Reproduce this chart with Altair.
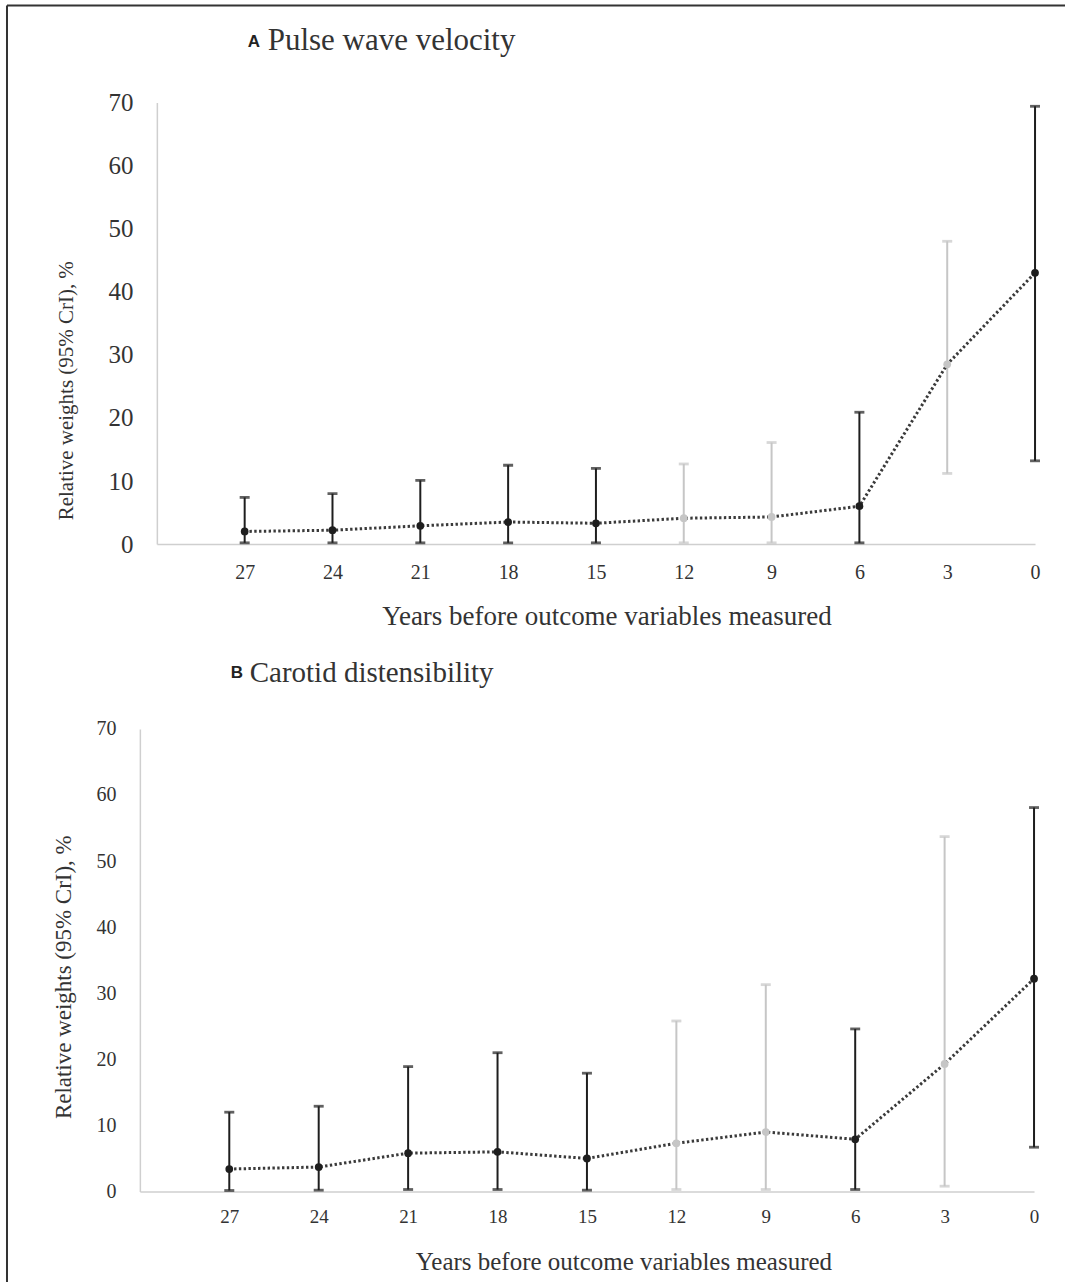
import altair as alt
import pandas as pd

# Years before the outcome variables were measured
years = [27, 24, 21, 18, 15, 12, 9, 6, 3, 0]

# Panel A: pulse wave velocity, relative weights (%) with 95% CrI
pwv_weight = [2.0, 2.2, 2.9, 3.5, 3.3, 4.1, 4.3, 6.0, 28.5, 43.0]
pwv_lower = [0.2, 0.2, 0.2, 0.2, 0.2, 0.2, 0.2, 0.2, 11.2, 13.2]
pwv_upper = [7.4, 8.0, 10.1, 12.5, 12.0, 12.7, 16.1, 20.9, 48.0, 69.4]
pwv_tone = ["dark", "dark", "dark", "dark", "dark", "light", "light", "dark", "light", "dark"]

# Panel B: carotid distensibility, relative weights (%) with 95% CrI
cd_weight = [3.4, 3.7, 5.8, 6.0, 5.0, 7.3, 9.0, 7.9, 19.3, 32.2]
cd_lower = [0.15, 0.2, 0.3, 0.3, 0.2, 0.3, 0.3, 0.3, 0.8, 6.7]
cd_upper = [12.0, 12.9, 18.9, 21.0, 17.9, 25.8, 31.3, 24.6, 53.7, 58.1]
cd_tone = ["dark", "dark", "dark", "dark", "dark", "light", "light", "dark", "light", "dark"]

y_ticks = [0, 10, 20, 30, 40, 50, 60, 70]

x_title = "Years before outcome variables measured"
y_title = "Relative weights (95% CrI), %"

W, H = 1066, 1276
SERIF = "Liberation Serif"
SANS = "Liberation Sans"
TEXT = "#333333"

tone_color = alt.Color(
    "tone:N",
    scale=alt.Scale(domain=["dark", "light"], range=["#1e1e1e", "#c6c6c6"]),
    legend=None,
)


def panel(df, x_range, y_range, x_off, y_off, lab_y, lab_x, lab_pad_x, t_x, t_y,
          xt_x, xt_y, yt_x, yt_y):
    xs = alt.Scale(domain=[30, 0], range=x_range)
    ys = alt.Scale(domain=[0, 70], range=y_range)
    x_axis = alt.Axis(
        orient="bottom", offset=x_off, values=years, format="d", ticks=False,
        grid=False, domainColor="#cfcfcf", domainWidth=1.5,
        labelFont=SERIF, labelFontSize=lab_x, labelColor=TEXT,
        labelPadding=lab_pad_x, labelFlush=False, labelOverlap=False,
        title=x_title, titleFont=SERIF, titleFontSize=t_x, titleFontWeight="normal",
        titleColor=TEXT, titleX=xt_x, titleY=xt_y, titleBaseline="middle",
        titleAnchor="middle",
    )
    y_axis = alt.Axis(
        orient="left", offset=y_off, values=y_ticks, ticks=False, grid=False,
        domainColor="#cfcfcf", domainWidth=1.5,
        labelFont=SERIF, labelFontSize=lab_y, labelColor=TEXT,
        labelPadding=24, labelFlush=False, labelOverlap=False,
        title=y_title, titleFont=SERIF, titleFontSize=t_y, titleFontWeight="normal",
        titleColor=TEXT, titleX=yt_x, titleY=yt_y, titleBaseline="middle",
        titleAngle=270,
    )

    def X():
        return alt.X("year:Q", scale=xs, axis=x_axis)

    def Y(field):
        return alt.Y(f"{field}:Q", scale=ys, axis=y_axis)

    base = alt.Chart(df)
    whiskers = base.mark_rule(strokeWidth=2).encode(
        x=X(), y=Y("lower"), y2="upper:Q", color=tone_color
    )
    cap_lo = base.mark_tick(orient="horizontal", size=10, thickness=2.8).encode(
        x=X(), y=Y("lower"), color=tone_color
    )
    cap_hi = base.mark_tick(orient="horizontal", size=10, thickness=2.8).encode(
        x=X(), y=Y("upper"), color=tone_color
    )
    trend = base.mark_line(
        color="#3a3a3a", strokeWidth=3, strokeDash=[2.4, 2.4], strokeCap="butt"
    ).encode(x=X(), y=Y("weight"))
    dots = base.mark_circle(size=60, opacity=1).encode(
        x=X(), y=Y("weight"), color=tone_color
    )
    return alt.layer(whiskers, cap_lo, cap_hi, trend, dots)


df_a = pd.DataFrame({"year": years, "weight": pwv_weight, "lower": pwv_lower,
                     "upper": pwv_upper, "tone": pwv_tone})
df_b = pd.DataFrame({"year": years, "weight": cd_weight, "lower": cd_lower,
                     "upper": cd_upper, "tone": cd_tone})

panel_a = panel(df_a, [157, 1036], [544, 102], x_off=-(H - 544), y_off=-157,
                lab_y=25, lab_x=20, lab_pad_x=18, t_x=27, t_y=21,
                xt_x=607, xt_y=72, yt_x=-90, yt_y=390)
panel_b = panel(df_b, [140, 1035], [1192, 729], x_off=-(H - 1192), y_off=-140,
                lab_y=20, lab_x=19, lab_pad_x=16, t_x=25, t_y=23,
                xt_x=624, xt_y=70, yt_x=-76, yt_y=977)

# Panel headings: bold letter plus serif caption
letters = pd.DataFrame({"txt": ["A", "B"], "px": [254, 237], "py": [41, 673]})
captions = pd.DataFrame({"txt": ["Pulse wave velocity", "Carotid distensibility"],
                         "px": [268, 250], "py": [40, 673], "fs": [31, 29]})

letter_marks = alt.Chart(letters).mark_text(
    font=SANS, fontSize=17, fontWeight="bold", color="#222222",
    align="center", baseline="middle"
).encode(
    x=alt.X("px:Q", scale=None), y=alt.Y("py:Q", scale=None), text="txt:N"
)
caption_marks = alt.Chart(captions).mark_text(
    font=SERIF, color=TEXT, align="left", baseline="middle"
).encode(
    x=alt.X("px:Q", scale=None), y=alt.Y("py:Q", scale=None), text="txt:N",
    size=alt.Size("fs:Q", scale=None),
)

# Frame lines along the top and left edges of the figure
frame = alt.Chart(pd.DataFrame({"k": [0]})).mark_rule(
    color="#333333", strokeWidth=2
)
frame_top = frame.encode(x=alt.value(7), x2=alt.value(W), y=alt.value(5))
frame_left = frame.encode(x=alt.value(7), y=alt.value(5), y2=alt.value(H + 10))

chart = (
    alt.layer(panel_a, panel_b, letter_marks, caption_marks, frame_top, frame_left)
    .resolve_scale(x="independent", y="independent")
    .properties(width=W, height=H, padding=0, background="white")
    .configure_view(stroke=None)
)

chart.save("out.html", embed_options={"renderer": "svg", "actions": False})
